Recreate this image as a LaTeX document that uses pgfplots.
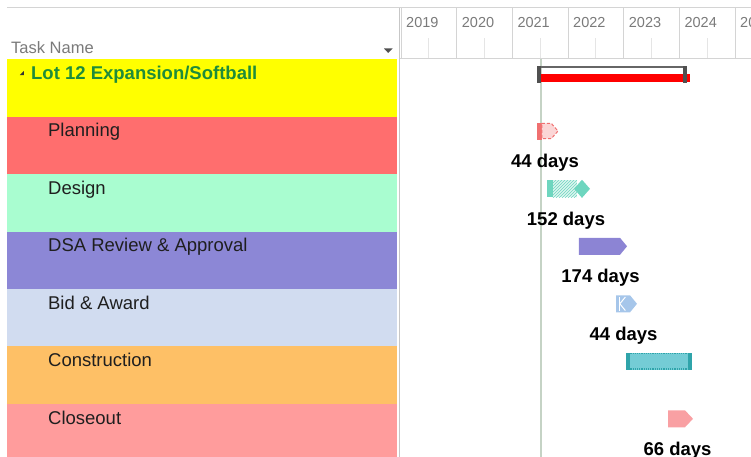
\documentclass[border=0pt]{standalone}
\usepackage{fontspec}
\setmainfont{Liberation Sans}
\usepackage{pgfplots}
\pgfplotsset{compat=1.18}
\usetikzlibrary{patterns}

% row colours of the task table
\definecolor{rowlot}{HTML}{FFFF00}
\definecolor{rowplan}{HTML}{FF6E6E}
\definecolor{rowdesign}{HTML}{A9FDD0}
\definecolor{rowdsa}{HTML}{8C87D6}
\definecolor{rowbid}{HTML}{D1DCF0}
\definecolor{rowcons}{HTML}{FEC066}
\definecolor{rowclose}{HTML}{FF9C9C}
\definecolor{lotgreen}{HTML}{1E8C3A}
% gantt bar colours
\definecolor{barplan}{HTML}{F07070}
\definecolor{barplanlt}{HTML}{FBD6D6}
\definecolor{bardesign}{HTML}{6ED6BF}
\definecolor{bardesignlt}{HTML}{DDF5EF}
\definecolor{bardsa}{HTML}{8C84D4}
\definecolor{barbid}{HTML}{A6C6EA}
\definecolor{barcons}{HTML}{74CCD5}
\definecolor{barconsdk}{HTML}{2FA4AA}
\definecolor{barclose}{HTML}{F9A0A3}
\definecolor{sumgray}{HTML}{666666}
\definecolor{capgray}{HTML}{505050}
\definecolor{todayline}{HTML}{C5D3C5}
\definecolor{gridgray}{HTML}{D4D4D4}
\definecolor{headtext}{HTML}{7A7A7A}

\newcommand{\taskfont}{\fontsize{18.5}{22}\selectfont}
\newcommand{\daysfont}{\fontsize{18.5}{22}\selectfont\bfseries}

\begin{document}
\begin{tikzpicture}
\useasboundingbox (0pt,0pt) rectangle (751pt,-457pt);

% header text of the table
\node[anchor=base west, inner sep=0pt, text=headtext, font=\fontsize{16.5}{20}\selectfont] at (11pt,-54pt) {Task Name};
\fill[capgray] (384pt,-48.5pt) -- (392.5pt,-48.5pt) -- (388.2pt,-53pt) -- cycle;

% task table (rows 0..6, one row = 57.5px)
\begin{axis}[
  at={(7pt,-59pt)}, anchor=north west,
  scale only axis, width=390pt, height=398pt,
  xmin=0, xmax=1, ymin=0, ymax=6.922, y dir=reverse,
  hide axis,
]
\addplot[draw=none, fill=rowlot]    coordinates {(0,0) (1,0) (1,1) (0,1)} -- cycle;
\addplot[draw=none, fill=rowplan]   coordinates {(0,1) (1,1) (1,2) (0,2)} -- cycle;
\addplot[draw=none, fill=rowdesign] coordinates {(0,2) (1,2) (1,3) (0,3)} -- cycle;
\addplot[draw=none, fill=rowdsa]    coordinates {(0,3) (1,3) (1,4) (0,4)} -- cycle;
\addplot[draw=none, fill=rowbid]    coordinates {(0,4) (1,4) (1,5) (0,5)} -- cycle;
\addplot[draw=none, fill=rowcons]   coordinates {(0,5) (1,5) (1,6) (0,6)} -- cycle;
\addplot[draw=none, fill=rowclose]  coordinates {(0,6) (1,6) (1,7) (0,7)} -- cycle;

\fill[black!80] ([xshift=-2pt,yshift=-2pt]axis cs:0.038,0.245) -- ++(4pt,0) -- ++(0,4pt) -- cycle;
\node[anchor=base west, inner sep=0pt, text=lotgreen, font=\taskfont\bfseries] at (axis cs:0.0615,0.348) {Lot 12 Expansion/Softball};
\node[anchor=base west, inner sep=0pt, text=black!88, font=\taskfont] at (axis cs:0.105,1.348) {Planning};
\node[anchor=base west, inner sep=0pt, text=black!88, font=\taskfont] at (axis cs:0.105,2.348) {Design};
\node[anchor=base west, inner sep=0pt, text=black!88, font=\taskfont] at (axis cs:0.105,3.348) {DSA Review \& Approval};
\node[anchor=base west, inner sep=0pt, text=black!88, font=\taskfont] at (axis cs:0.105,4.348) {Bid \& Award};
\node[anchor=base west, inner sep=0pt, text=black!88, font=\taskfont] at (axis cs:0.105,5.348) {Construction};
\node[anchor=base west, inner sep=0pt, text=black!88, font=\taskfont] at (axis cs:0.105,6.348) {Closeout};
\end{axis}

% timescale header
\begin{axis}[
  at={(400pt,-8pt)}, anchor=north west,
  scale only axis, width=351pt, height=51pt,
  xmin=2018.982, xmax=2025.287, ymin=0, ymax=1,
  axis x line*=bottom, axis y line=none,
  axis line style={gridgray, line width=1pt},
  xtick={2019,2020,2021,2022,2023,2024,2025},
  minor xtick={2019.5,2020.5,2021.5,2022.5,2023.5,2024.5},
  xticklabels={},
  tick align=inside,
  major tick length=51pt, minor tick length=21pt,
  major tick style={gridgray, line width=1pt},
  minor tick style={black!10, line width=0.8pt},
]
\pgfplotsinvokeforeach{2019,2020,2021,2022,2023,2024,2025}{
  \node[anchor=base west, inner sep=0pt, text=headtext, font=\fontsize{14.5}{17}\selectfont] at (axis cs:#1+0.09,0.608) {#1};
}
\end{axis}

% gantt bars
\begin{axis}[
  at={(400pt,-59pt)}, anchor=north west,
  scale only axis, width=351pt, height=398pt,
  xmin=2018.982, xmax=2025.287, ymin=0, ymax=6.922, y dir=reverse,
  hide axis, clip=false,
]
% status date
\addplot[todayline, line width=1.6pt] coordinates {(2021.515,0) (2021.515,6.922)};

% summary: Lot 12 Expansion/Softball
\addplot[sumgray, line width=1.6pt] coordinates {(2021.461,0.40) (2021.461,0.139) (2024.119,0.139) (2024.119,0.40)};
\addplot[draw=none, fill=red] coordinates {(2021.515,0.26) (2024.191,0.26) (2024.191,0.40) (2021.515,0.40)} -- cycle;
\addplot[draw=none, fill=capgray] coordinates {(2021.443,0.12) (2021.515,0.12) (2021.515,0.41) (2021.443,0.41)} -- cycle;
\addplot[draw=none, fill=capgray] coordinates {(2024.065,0.12) (2024.137,0.12) (2024.137,0.41) (2024.065,0.41)} -- cycle;

% Planning
\addplot[draw=none, fill=barplan] coordinates {(2021.443,1.105) (2021.53,1.105) (2021.53,1.40) (2021.443,1.40)} -- cycle;
\addplot[fill=barplanlt, draw=barplan, densely dashed, line width=1pt] coordinates {(2021.53,1.12) (2021.70,1.12) (2021.82,1.2525) (2021.70,1.385) (2021.53,1.385)} -- cycle;
\node[anchor=base, inner sep=0pt, font=\daysfont] at (axis cs:2021.587,1.887) {44 days};

% Design
\addplot[draw=none, fill=bardesign] coordinates {(2021.623,2.11) (2021.73,2.11) (2021.73,2.405) (2021.623,2.405)} -- cycle;
\addplot[draw=none, fill=bardesignlt] coordinates {(2021.73,2.11) (2022.16,2.11) (2022.16,2.405) (2021.73,2.405)} -- cycle;
\addplot[draw=none, pattern=north east lines, pattern color=bardesign] coordinates {(2021.73,2.11) (2022.16,2.11) (2022.16,2.405) (2021.73,2.405)} -- cycle;
\addplot[draw=none, fill=bardesign] coordinates {(2022.108,2.2575) (2022.251,2.10) (2022.395,2.2575) (2022.251,2.415)} -- cycle;
\node[anchor=base, inner sep=0pt, font=\daysfont] at (axis cs:2021.964,2.887) {152 days};

% DSA Review & Approval
\addplot[draw=none, fill=bardsa] coordinates {(2022.197,3.11) (2022.934,3.11) (2023.060,3.2575) (2022.934,3.405) (2022.197,3.405)} -- cycle;
\node[anchor=base, inner sep=0pt, font=\daysfont] at (axis cs:2022.584,3.887) {174 days};

% Bid & Award
\addplot[draw=none, fill=barbid] coordinates {(2022.863,4.11) (2023.114,4.11) (2023.239,4.2575) (2023.114,4.405) (2022.863,4.405)} -- cycle;
\addplot[white, line width=1pt] coordinates {(2023.03,4.14) (2022.93,4.2575) (2023.03,4.375)};
\addplot[white, line width=1pt] coordinates {(2022.93,4.14) (2022.93,4.375)};
\node[anchor=base, inner sep=0pt, font=\daysfont] at (axis cs:2022.997,4.887) {44 days};

% Construction
\addplot[draw=none, fill=barcons] coordinates {(2023.042,5.11) (2024.227,5.11) (2024.227,5.405) (2023.042,5.405)} -- cycle;
\addplot[barconsdk, densely dotted, line width=1.2pt] coordinates {(2023.042,5.125) (2024.227,5.125)};
\addplot[barconsdk, densely dotted, line width=1.2pt] coordinates {(2023.042,5.39) (2024.227,5.39)};
\addplot[draw=none, fill=barconsdk] coordinates {(2023.042,5.11) (2023.11,5.11) (2023.11,5.405) (2023.042,5.405)} -- cycle;
\addplot[draw=none, fill=barconsdk] coordinates {(2024.16,5.11) (2024.227,5.11) (2024.227,5.405) (2024.16,5.405)} -- cycle;

% Closeout
\addplot[draw=none, fill=barclose] coordinates {(2023.796,6.11) (2024.101,6.11) (2024.245,6.2575) (2024.101,6.405) (2023.796,6.405)} -- cycle;
\node[anchor=base, inner sep=0pt, font=\daysfont] at (axis cs:2023.967,6.887) {66 days};
\end{axis}

% frame lines
\draw[gridgray, line width=1pt] (7pt,-8pt) -- (751pt,-8pt);
\draw[black!22, line width=1.5pt] (399.5pt,-8pt) -- (399.5pt,-457pt);
\end{tikzpicture}
\end{document}
